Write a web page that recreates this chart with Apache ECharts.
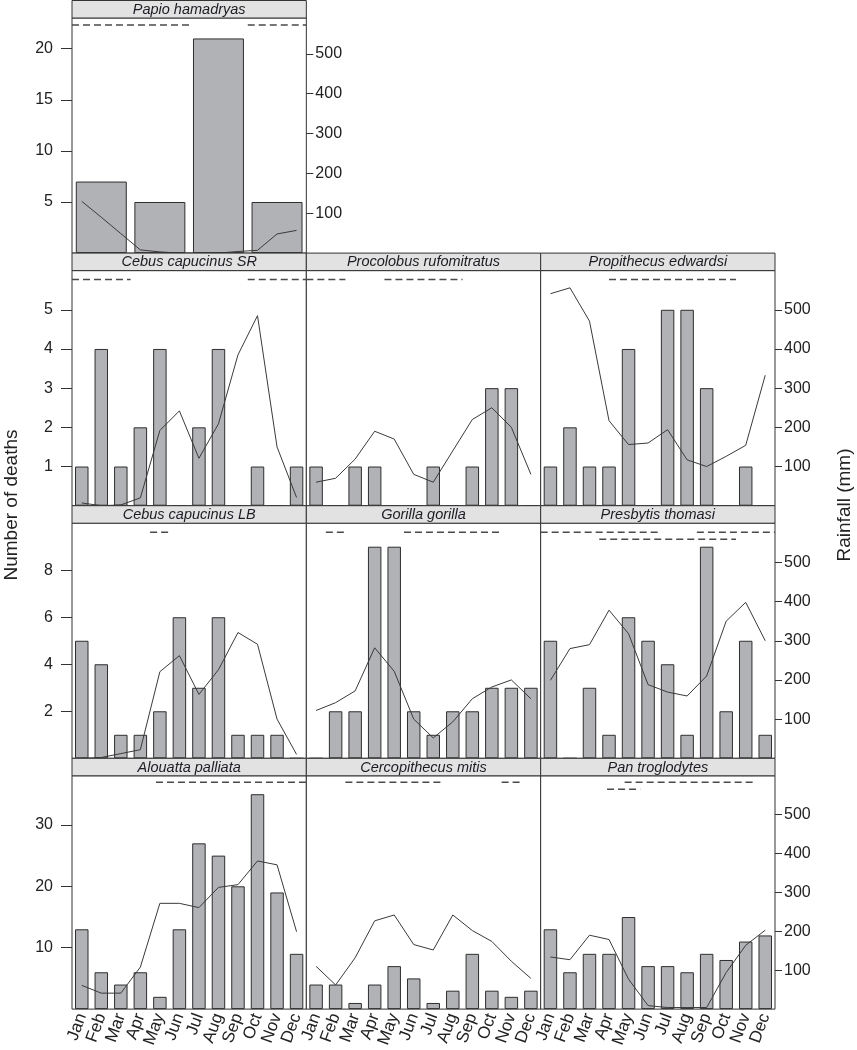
<!DOCTYPE html>
<html>
<head>
<meta charset="utf-8">
<script src="https://cdn.jsdelivr.net/npm/echarts@6/dist/echarts.min.js"></script>
<style>
html,body{margin:0;padding:0;background:#fff;}
#chart{width:857px;height:1050px;}
</style>
</head>
<body>
<div id="chart"></div>
<script>
// ---------- data ----------
const months = ['Jan','Feb','Mar','Apr','May','Jun','Jul','Aug','Sep','Oct','Nov','Dec'];
const papioBins = ['Jan–Mar','Apr–Jun','Jul–Sep','Oct–Dec'];

const papioDeaths = [7,5,21,5];
const papioRain = [130,90,49,8,3,0,0,0,4,7,48,57];
const cebusSRDeaths = [1,4,1,2,4,0,2,4,0,1,0,1];
const cebusSRRain = [7,0,2,20,192,242,121,209,385,485,150,21];
const procolobusDeaths = [1,0,1,1,0,0,1,0,1,3,3,0];
const procolobusRain = [60,70,119,190,170,80,60,140,220,250,200,80];
const propithecusDeaths = [1,2,1,1,4,0,5,5,3,0,1,0];
const propithecusRain = [541,556,471,217,156,160,194,117,100,126,154,333];
const cebusLBDeaths = [5,4,1,1,2,6,3,6,1,1,1,0];
const cebusLBRain = [0,2,12,22,221,262,163,226,321,291,100,10];
const gorillaDeaths = [0,2,2,9,9,2,1,2,2,3,3,3];
const gorillaRain = [122,142,172,282,222,100,52,93,152,182,200,152];
const presbytisDeaths = [5,0,3,1,6,5,4,1,9,2,5,1];
const presbytisRain = [199,280,290,378,318,188,169,159,210,350,398,300];
const alouattaDeaths = [13,6,4,6,2,13,27,25,20,35,19,9];
const alouattaRain = [61,41,41,108,272,272,261,313,320,381,371,199];
const cercoDeaths = [4,4,1,4,7,5,1,3,9,3,2,3];
const cercoRain = [110,62,132,227,242,166,152,242,202,174,123,79];
const panDeaths = [13,6,9,9,15,7,7,6,9,8,11,12];
const panRain = [134,127,190,179,77,9,4,4,4,94,164,203];

// wet-season bars (month positions on a 0–12 scale): [start, end]
const papioWet = [[0,6],[9,12]];
const cebusSRWet = [[0,3],[9,12]];
const procolobusWet = [[0,2],[4,8]];
const propithecusWet = [[3.5,10]];
const cebusLBWet = [[4,5]];
const gorillaWet = [[1,2],[5,10]];
const presbytisWet = [[0,6],[8,12]];
const presbytisWet2 = [[3,10]];
const alouattaWet = [[4.3,12]];
const cercoWet = [[2,7],[10,11]];
const panWet = [[4.3,11]];
const panWet2 = [[3.4,5.1]];

// axis ticks
const deathsMax = [23,6,10,38];
const deathsTicks = [[5,10,15,20],[1,2,3,4,5],[2,4,6,8],[10,20,30]];
const rainMax = [590,600,600,600];
const rainTicks = [100,200,300,400,500];

// ---------- layout ----------
const FONT = "'Liberation Sans', Arial, sans-serif";
const colLeft = [72, 306.33, 540.67];
const colW = 234.33;
const rowStep = 252.6;
const stripH = 17.5;
const plotH = rowStep - stripH;
const rowTop = [0.5, 0.5+rowStep, 0.5+2*rowStep, 0.5+3*rowStep];
const dashLevel = [7, 9, 9, 6.5];

const panels = [
  {name:'Papio hamadryas', row:0, col:0, deaths:papioDeaths, rain:papioRain, wet:[papioWet], quarterly:true},
  {name:'Cebus capucinus SR', row:1, col:0, deaths:cebusSRDeaths, rain:cebusSRRain, wet:[cebusSRWet]},
  {name:'Procolobus rufomitratus', row:1, col:1, deaths:procolobusDeaths, rain:procolobusRain, wet:[procolobusWet]},
  {name:'Propithecus edwardsi', row:1, col:2, deaths:propithecusDeaths, rain:propithecusRain, wet:[propithecusWet]},
  {name:'Cebus capucinus LB', row:2, col:0, deaths:cebusLBDeaths, rain:cebusLBRain, wet:[cebusLBWet]},
  {name:'Gorilla gorilla', row:2, col:1, deaths:gorillaDeaths, rain:gorillaRain, wet:[gorillaWet]},
  {name:'Presbytis thomasi', row:2, col:2, deaths:presbytisDeaths, rain:presbytisRain, wet:[presbytisWet, presbytisWet2]},
  {name:'Alouatta palliata', row:3, col:0, deaths:alouattaDeaths, rain:alouattaRain, wet:[alouattaWet]},
  {name:'Cercopithecus mitis', row:3, col:1, deaths:cercoDeaths, rain:cercoRain, wet:[cercoWet]},
  {name:'Pan troglodytes', row:3, col:2, deaths:panDeaths, rain:panRain, wet:[panWet, panWet2]}
];

const option = {animation:false, backgroundColor:'#fff', grid:[], xAxis:[], yAxis:[], series:[], graphic:[]};

panels.forEach((p, i) => {
  const left = colLeft[p.col];
  const top = rowTop[p.row] + stripH;
  option.grid.push({left:left, top:top, width:colW, height:plotH, show:true,
    borderColor:'#333', borderWidth:1, backgroundColor:'#fff'});

  const xi = option.xAxis.length;
  option.xAxis.push({type:'category', gridIndex:i, data: p.quarterly ? papioBins : months,
    show: p.row === 3,
    axisLine:{show:false}, axisTick:{show:false}, splitLine:{show:false},
    axisLabel:{interval:0, rotate:70, margin:5, fontSize:17, color:'#222', fontFamily:FONT}});
  option.xAxis.push({type:'category', gridIndex:i, data: months, show:false});
  option.xAxis.push({type:'value', gridIndex:i, min:0, max:12, show:false});

  const yi = option.yAxis.length;
  option.yAxis.push({type:'value', gridIndex:i, min:0, max:deathsMax[p.row], position:'left',
    show: p.col === 0,
    axisLine:{show:false}, splitLine:{show:false},
    axisTick:{show:true, length:11, customValues:deathsTicks[p.row], lineStyle:{color:'#333', width:1}},
    axisLabel:{customValues:deathsTicks[p.row], margin:19, fontSize:16, color:'#222', fontFamily:FONT}});
  const showRight = (p.col === 2) || (p.row === 0);
  option.yAxis.push({type:'value', gridIndex:i, min:0, max:rainMax[p.row], position:'right',
    show: showRight,
    axisLine:{show:false}, splitLine:{show:false},
    axisTick:{show:true, length:7, customValues:rainTicks, lineStyle:{color:'#333', width:1}},
    axisLabel:{customValues:rainTicks, margin:9, fontSize:16, color:'#222', fontFamily:FONT}});
  option.yAxis.push({type:'value', gridIndex:i, min:0, max:plotH, inverse:true, show:false});

  option.series.push({type:'bar', xAxisIndex:xi, yAxisIndex:yi, data:p.deaths,
    barWidth: p.quarterly ? '87%' : '69%', silent:true,
    itemStyle:{color:'#b1b2b6', borderColor:'#2e2e2e', borderWidth:1}});
  option.series.push({type:'line', xAxisIndex:xi+1, yAxisIndex:yi+1, data:p.rain,
    symbol:'none', silent:true, z:3, lineStyle:{color:'#3a3a3a', width:1}});

  p.wet.forEach((segs, k) => {
    const lvl = dashLevel[p.row] + k * 7;
    segs.forEach(seg => {
      option.series.push({type:'line', xAxisIndex:xi+2, yAxisIndex:yi+2,
        data:[[seg[0], lvl],[seg[1], lvl]], symbol:'none', silent:true, z:4,
        lineStyle:{color:'#4a4a4a', width:1.5, type:[7,4]}});
    });
  });

  // strip
  option.graphic.push({type:'rect', shape:{x:left, y:rowTop[p.row], width:colW, height:stripH},
    style:{fill:'#e2e2e2', stroke:'#333', lineWidth:1}, silent:true, z:10});
  option.graphic.push({type:'text', x:left + colW/2, y:rowTop[p.row] + stripH/2 + 0.5,
    style:{text:p.name, align:'center', verticalAlign:'middle', fill:'#1c1c24',
      font:"italic 14.5px " + FONT}, silent:true, z:11});
});

option.graphic.push({type:'text', x:12, y:505, rotation:Math.PI/2,
  style:{text:'Number of deaths', align:'center', verticalAlign:'middle', fill:'#222', font:'19px ' + FONT}, silent:true});
option.graphic.push({type:'text', x:845, y:505, rotation:Math.PI/2,
  style:{text:'Rainfall (mm)', align:'center', verticalAlign:'middle', fill:'#222', font:'19px ' + FONT}, silent:true});

const chart = echarts.init(document.getElementById('chart'), null, {renderer:'canvas'});
chart.setOption(option);
</script>
</body>
</html>
